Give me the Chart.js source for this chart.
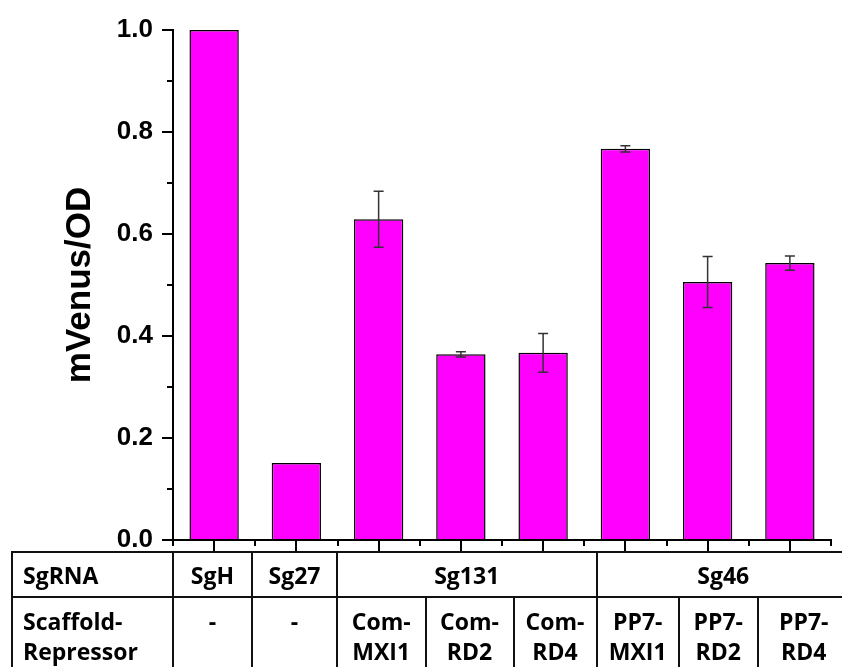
<!DOCTYPE html>
<html>
<head>
<meta charset="utf-8">
<script src="https://cdn.jsdelivr.net/npm/chart.js@4"></script>
<style>
  html, body { margin: 0; padding: 0; background: #fff; overflow: hidden; }
  #wrap { position: relative; width: 842px; height: 667px; }
  #chart { position: absolute; left: 0; top: 0; }
  .hline, .vline { position: absolute; background: #111; }
  .cell { position: absolute; display: flex; justify-content: center; text-align: center;
          font-family: "Open Sans", sans-serif; font-weight: bold; font-size: 23px; color: #000; line-height: 30px; }
  .cell.head { justify-content: flex-start; text-align: left; padding-left: 11px; box-sizing: border-box; }
</style>
</head>
<body>
<div id="wrap">
  <canvas id="chart" width="842" height="667"></canvas>
  <div id="table"></div>
</div>
<script>
// Samples, bar heights (normalised mVenus/OD) and their error half-widths
const categories = ['SgH', 'Sg27', 'Com-MXI1', 'Com-RD2', 'Com-RD4', 'PP7-MXI1', 'PP7-RD2', 'PP7-RD4'];
const values = [1.0, 0.151, 0.629, 0.364, 0.367, 0.767, 0.506, 0.543];
const errors = [0, 0, 0.055, 0.005, 0.038, 0.006, 0.050, 0.014];
const yTicks = [0.0, 0.2, 0.4, 0.6, 0.8, 1.0];
const yMinorTicks = [0.1, 0.3, 0.5, 0.7, 0.9];

// Annotation table rows
const rowHeaders = ['SgRNA', 'Scaffold-Repressor'];
const sgRNAGroups = ['SgH', 'Sg27', 'Sg131', 'Sg46'];
const sgRNASpans = [1, 1, 3, 3];
const scaffoldRepressor = ['-', '-', 'Com-MXI1', 'Com-RD2', 'Com-RD4', 'PP7-MXI1', 'PP7-RD2', 'PP7-RD4'];

// Table geometry (px)
const tableLeft = 12, tableTop = 552, rowSplit = 597, tableBottom = 680;
const colEdges = [173, 252, 337, 425.5, 513.5, 596.5, 679, 757.5, 850];

// Minor ticks on y, and long/short ticks on x (centres / boundaries)
const axisTicks = {
  id: 'axisTicks',
  afterDraw(chart) {
    const {ctx, scales: {x, y}, chartArea} = chart;
    ctx.save();
    ctx.strokeStyle = '#000';
    ctx.lineWidth = 2;
    ctx.beginPath();
    yMinorTicks.forEach(v => {
      const py = Math.round(y.getPixelForValue(v));
      ctx.moveTo(chartArea.left - 6, py);
      ctx.lineTo(chartArea.left, py);
    });
    const n = categories.length;
    const step = (x.getPixelForValue(1) - x.getPixelForValue(0));
    for (let i = 0; i < n; i++) {
      const cx = Math.round(x.getPixelForValue(i));
      ctx.moveTo(cx, chartArea.bottom);
      ctx.lineTo(cx, chartArea.bottom + 11);
    }
    for (let i = 0; i <= n; i++) {
      const bx = Math.round(x.getPixelForValue(0) - step / 2 + i * step);
      ctx.moveTo(bx, chartArea.bottom);
      ctx.lineTo(bx, chartArea.bottom + 6);
    }
    ctx.stroke();
    ctx.restore();
  }
};

// Error bars with caps
const errorBars = {
  id: 'errorBars',
  afterDatasetsDraw(chart) {
    const {ctx, scales: {x, y}} = chart;
    ctx.save();
    ctx.strokeStyle = '#333';
    ctx.lineWidth = 1.5;
    values.forEach((v, i) => {
      const e = errors[i];
      if (!e) return;
      const cx = x.getPixelForValue(i);
      const yTop = y.getPixelForValue(v + e);
      const yBot = y.getPixelForValue(v - e);
      ctx.beginPath();
      ctx.moveTo(cx, yTop); ctx.lineTo(cx, yBot);
      ctx.moveTo(cx - 5, yTop); ctx.lineTo(cx + 5, yTop);
      ctx.moveTo(cx - 5, yBot); ctx.lineTo(cx + 5, yBot);
      ctx.stroke();
    });
    ctx.restore();
  }
};

new Chart(document.getElementById('chart'), {
  type: 'bar',
  data: {
    labels: categories,
    datasets: [{
      data: values,
      backgroundColor: '#FF00FF',
      borderColor: '#000',
      borderWidth: 1.5,
      categoryPercentage: 1.0,
      barPercentage: 0.6
    }]
  },
  options: {
    responsive: false,
    animation: false,
    layout: { padding: { top: 30, right: 11, left: 0, bottom: 0 } },
    plugins: { legend: { display: false }, tooltip: { enabled: false } },
    scales: {
      x: {
        grid: { display: false },
        border: { display: true, color: '#000', width: 2 },
        ticks: { display: false },
        afterFit(s) { s.height = 127; }
      },
      y: {
        min: 0, max: 1,
        afterBuildTicks(s) { s.ticks = yTicks.map(v => ({ value: v })); },
        ticks: {
          font: { family: 'Liberation Sans', weight: 'bold', size: 26 },
          color: '#000', padding: 9,
          callback: v => Number(v).toFixed(1)
        },
        grid: { drawOnChartArea: false, drawTicks: true, tickLength: 11, color: '#000', tickColor: '#000', lineWidth: 2 },
        border: { display: true, color: '#000', width: 2 },
        title: {
          display: true, text: 'mVenus/OD', color: '#000',
          font: { family: 'Liberation Sans', weight: 'bold', size: 35 },
          padding: { top: 59, bottom: 0 }
        },
        afterFit(s) { s.width = 173; }
      }
    }
  },
  plugins: [errorBars, axisTicks]
});

// Annotation table under the axis
(function buildTable() {
  const t = document.getElementById('table');
  const add = (cls, style, html) => {
    const d = document.createElement('div');
    d.className = cls;
    Object.assign(d.style, style);
    if (html !== undefined) d.innerHTML = html;
    t.appendChild(d);
    return d;
  };
  const lw = 2;
  const twoLines = s => s.replace(/^(.+-)(.+)$/, '$1<br>$2');
  // horizontal rules
  [tableTop, rowSplit].forEach(yy => add('hline', { left: tableLeft - 1 + 'px', top: yy - lw / 2 + 'px', width: 850 - tableLeft + 'px', height: lw + 'px' }));
  // vertical rules through both rows
  const groupEdges = [colEdges[0]];
  let k = 0;
  sgRNASpans.forEach(sp => { k += sp; groupEdges.push(colEdges[k]); });
  [tableLeft].concat(groupEdges).forEach(xx => add('vline', { left: xx - lw / 2 + 'px', top: tableTop + 'px', width: lw + 'px', height: tableBottom - tableTop + 'px' }));
  // vertical rules in the second row only
  colEdges.forEach(xx => {
    if (groupEdges.indexOf(xx) < 0) add('vline', { left: xx - lw / 2 + 'px', top: rowSplit + 'px', width: lw + 'px', height: tableBottom - rowSplit + 'px' });
  });
  // row headers
  add('cell head', { left: tableLeft + 'px', top: tableTop + 'px', width: colEdges[0] - tableLeft + 'px', height: rowSplit - tableTop + 'px', alignItems: 'center' }, rowHeaders[0]);
  add('cell head', { left: tableLeft + 'px', top: rowSplit + 9 + 'px', width: colEdges[0] - tableLeft + 'px' }, twoLines(rowHeaders[1]));
  // SgRNA groups
  k = 0;
  sgRNAGroups.forEach((g, i) => {
    const l = colEdges[k], r = colEdges[k + sgRNASpans[i]];
    k += sgRNASpans[i];
    add('cell', { left: l + 'px', top: tableTop + 'px', width: r - l + 'px', height: rowSplit - tableTop + 'px', alignItems: 'center' }, g);
  });
  // scaffold-repressor cells
  scaffoldRepressor.forEach((s, i) => {
    const l = colEdges[i], r = colEdges[i + 1];
    add('cell', { left: l + 'px', top: rowSplit + 9 + 'px', width: r - l + 'px' }, twoLines(s));
  });
})();
</script>
</body>
</html>
